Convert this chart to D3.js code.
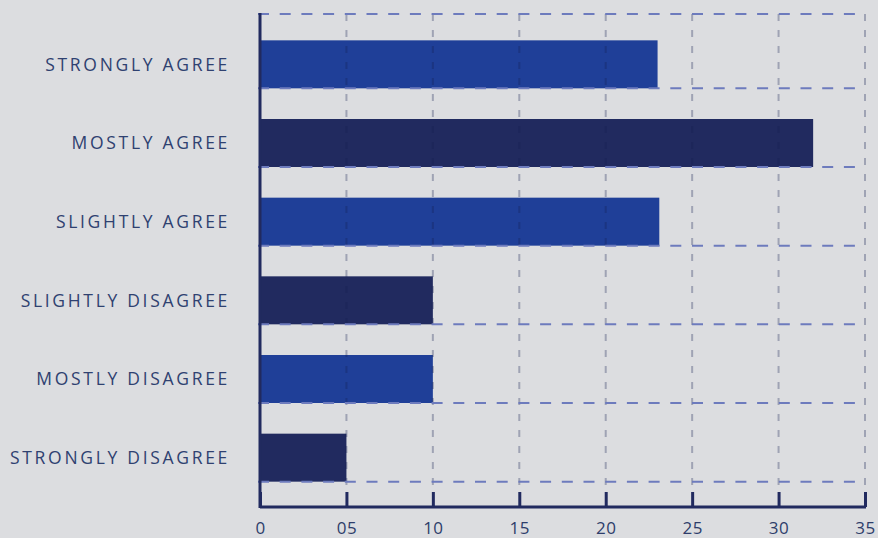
<!DOCTYPE html>
<html><head><meta charset="utf-8">
<script src="https://cdn.jsdelivr.net/npm/d3@7"></script>
<style>
html,body{margin:0;padding:0;background:#dcdde0;}
svg{display:block;}
</style></head>
<body>
<svg id="chart" width="878" height="538"></svg>
<script>
const categories = ["STRONGLY AGREE","MOSTLY AGREE","SLIGHTLY AGREE","SLIGHTLY DISAGREE","MOSTLY DISAGREE","STRONGLY DISAGREE"];
const values = [23, 32, 23.1, 10, 10, 5];
const barColors = ["#1f3f98","#212a5f","#1f3f98","#212a5f","#1f3f98","#212a5f"];
const tickValues = [0,5,10,15,20,25,30,35];
const tickLabels = ["0","05","10","15","20","25","30","35"];

const svg = d3.select("#chart");
const x0 = 260, x1 = 865, yTop = 14, yAxis = 507;
const x = d3.scaleLinear().domain([0,35]).range([x0,x1]);
const y = d3.scaleBand().domain(categories).range([25,497]).paddingInner(0.39).paddingOuter(0.195);

// bars
svg.append("g").selectAll("rect").data(categories).join("rect")
  .attr("x", x(0)).attr("y", d=>y(d))
  .attr("width", (d,i)=>x(values[i])-x(0)).attr("height", y.bandwidth())
  .attr("fill", (d,i)=>barColors[i]);

// vertical dashed grid (over bars)
svg.append("g").selectAll("line").data(tickValues.slice(1)).join("line")
  .attr("x1", d=>x(d)).attr("x2", d=>x(d))
  .attr("y1", yTop).attr("y2", 490)
  .attr("stroke","rgba(20,30,80,0.3)").attr("stroke-width",2)
  .attr("stroke-dasharray","7,9");

// horizontal dashed grid: top border and bar bottoms
const hLines = [yTop].concat(categories.map(c=>y(c)+y.bandwidth()));
svg.append("g").selectAll("line").data(hLines).join("line")
  .attr("x1", 258).attr("x2", x1)
  .attr("y1", d=>d).attr("y2", d=>d)
  .attr("stroke","#6d7bbd").attr("stroke-width",2)
  .attr("stroke-dasharray","11,10.7");

// y axis line
svg.append("line").attr("x1",x0).attr("x2",x0).attr("y1",yTop-1).attr("y2",yAxis+1)
  .attr("stroke","#212a5f").attr("stroke-width",3);

// x axis
const xAxis = d3.axisBottom(x).tickValues(tickValues).tickFormat((d,i)=>tickLabels[i])
  .tickSizeInner(0).tickSizeOuter(0).tickPadding(15);
const gx = svg.append("g").attr("transform",`translate(0,${yAxis})`).call(xAxis);
gx.select(".domain").attr("stroke","#212a5f").attr("stroke-width",3).attr("d",`M${x0},0H${x1+1}`);
gx.selectAll(".tick line").remove();
gx.selectAll(".tick").append("line").attr("y1",-15).attr("y2",0).attr("stroke","#212a5f").attr("stroke-width",3);
gx.selectAll(".tick text").attr("fill","#2e3d6b").attr("font-family","'Open Sans', sans-serif")
  .attr("font-size","17px").attr("font-weight",400).attr("letter-spacing","0.5px")
  .attr("y", 27).attr("dy", null);

// category labels
const labels = svg.append("g").selectAll("text").data(categories).join("text")
  .attr("x", 230).attr("y", d=>y(d)+y.bandwidth()/2)
  .attr("dy","0.36em").attr("text-anchor","end")
  .attr("fill","#2f4170").attr("font-family","'Open Sans', sans-serif")
  .attr("font-size","17.5px").attr("font-weight",400)
  .text(d=>d);
// fit letter spacing so the longest label spans like the reference (~220px)
let maxW = 0, maxN = 1;
labels.each(function(d){ const w=this.getComputedTextLength(); if(w>maxW){maxW=w;maxN=d.length;} });
const ls = Math.max(0,(220-maxW)/maxN);
labels.attr("letter-spacing", ls+"px");
</script>
</body></html>
